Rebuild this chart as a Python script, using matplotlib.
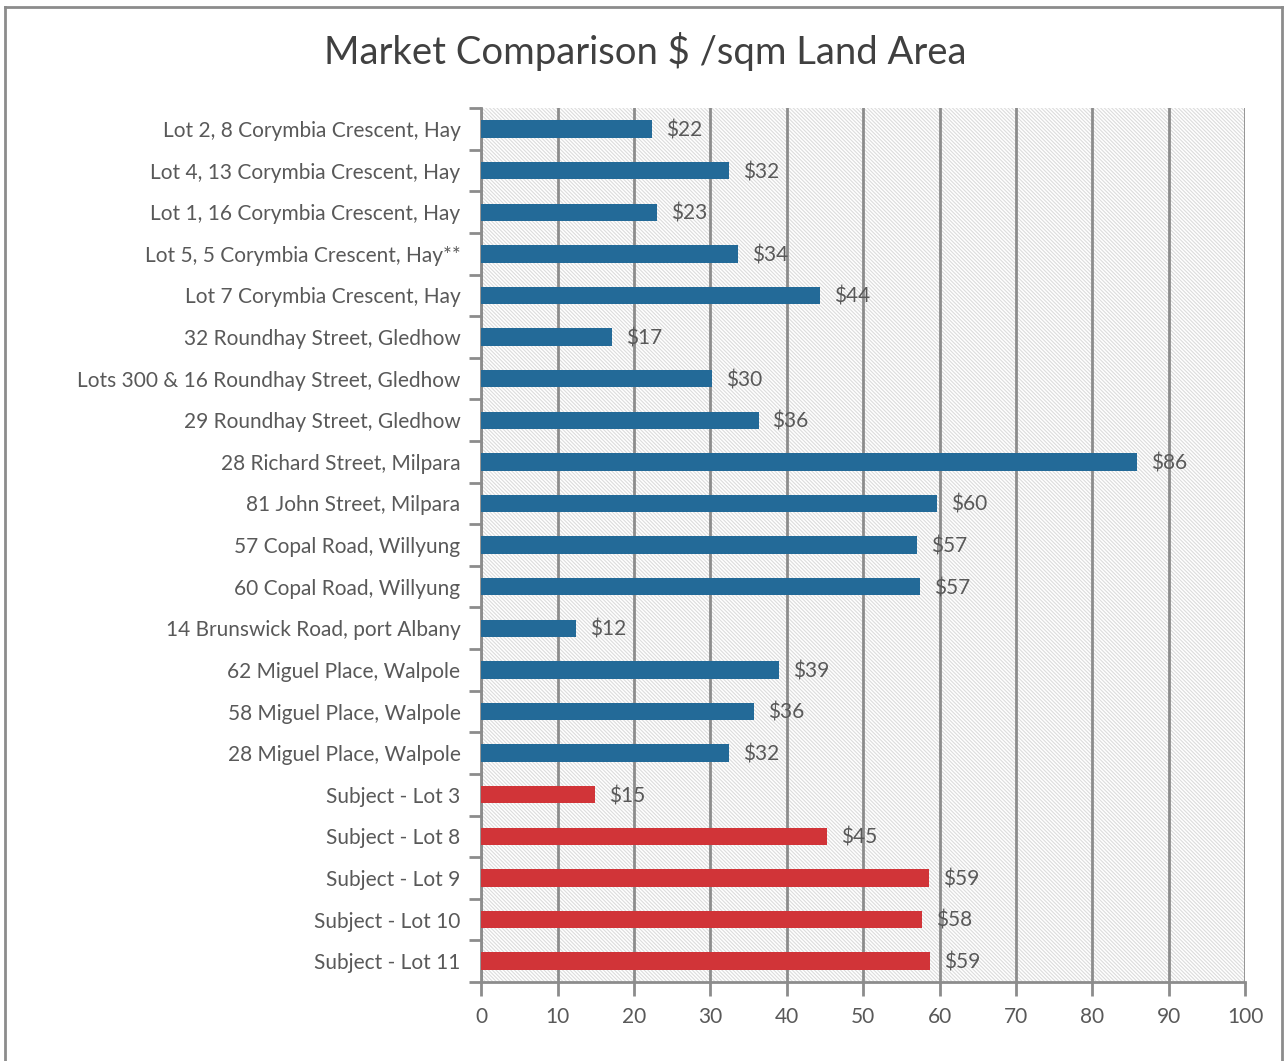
import matplotlib
matplotlib.use("Agg")
import matplotlib.pyplot as plt
from matplotlib.lines import Line2D

plt.rcParams["font.family"] = ["Lato", "DejaVu Sans"]
plt.rcParams["hatch.color"] = "#dcdcdc"
plt.rcParams["hatch.linewidth"] = 0.8

labels = [
    "Lot 2, 8 Corymbia Crescent, Hay",
    "Lot 4, 13 Corymbia Crescent, Hay",
    "Lot 1, 16 Corymbia Crescent, Hay",
    "Lot 5, 5 Corymbia Crescent, Hay**",
    "Lot 7 Corymbia Crescent, Hay",
    "32 Roundhay Street, Gledhow",
    "Lots 300 & 16 Roundhay Street, Gledhow",
    "29 Roundhay Street, Gledhow",
    "28 Richard Street, Milpara",
    "81 John Street, Milpara",
    "57 Copal Road, Willyung",
    "60 Copal Road, Willyung",
    "14 Brunswick Road, port Albany",
    "62 Miguel Place, Walpole",
    "58 Miguel Place, Walpole",
    "28 Miguel Place, Walpole",
    "Subject - Lot 3",
    "Subject - Lot 8",
    "Subject - Lot 9",
    "Subject - Lot 10",
    "Subject - Lot 11",
]
values = [22.4, 32.4, 23.0, 33.6, 44.4, 17.1, 30.2, 36.3, 85.9, 59.7, 57.1,
          57.4, 12.4, 39.0, 35.7, 32.4, 14.9, 45.3, 58.6, 57.7, 58.7]
is_subject = [lab.startswith("Subject") for lab in labels]

blue = "#236a98"
red = "#d13438"
grey = "#8c8c8c"
text_col = "#595959"

fig = plt.figure(figsize=(12.85, 10.61), dpi=100)
ax = fig.add_axes([0.3745, 0.0745, 0.5945, 0.8235])

# Hatched plot background, like Excel's light downward diagonal fill.
ax.set_facecolor("white")
ax.patch.set_hatch("\\" * 9)
ax.patch.set_edgecolor("#dcdcdc")
ax.patch.set_linewidth(0)

ypos = list(range(len(labels)))
colors = [red if s else blue for s in is_subject]
ax.barh(ypos, values, height=0.42, color=colors, zorder=3)

for y, v in zip(ypos, values):
    ax.annotate(f"${v:.0f}", (v, y), xytext=(10, -1), textcoords="offset points",
                va="center", ha="left", fontsize=15, color=text_col, zorder=4)

ax.set_xlim(0, 100)
ax.set_ylim(len(labels) - 0.5, -0.5)
ax.set_xticks(range(0, 101, 10))
ax.set_yticks(ypos)
ax.set_yticklabels(labels)
ax.set_yticks([i + 0.5 for i in range(-1, len(labels))], minor=True)

ax.grid(axis="x", color=grey, linewidth=2, zorder=1)
ax.set_axisbelow(True)

for side in ["top", "right"]:
    ax.spines[side].set_visible(False)
for side in ["left", "bottom"]:
    ax.spines[side].set_color(grey)
    ax.spines[side].set_linewidth(2)

ax.tick_params(axis="y", which="major", length=0, pad=15, labelsize=15, labelcolor=text_col)
ax.tick_params(axis="y", which="minor", length=9, width=2, color=grey, direction="out")
ax.tick_params(axis="x", length=10, width=2, color=grey, pad=8, labelsize=15, labelcolor=text_col)

fig.text(0.502, 0.951, "Market Comparison $ /sqm Land Area", ha="center", va="center",
         fontsize=27.5, color="#404040")

# Chart area border
W, H = 1285, 1061
for xs, ys in [((5, 5), (7, H + 5)), ((5, 1282), (7, 7)), ((1282, 1282), (7, H + 5))]:
    fig.add_artist(Line2D([x / W for x in xs], [1 - y / H for y in ys],
                          color="#8c8c8c", linewidth=2))

fig.savefig("out.png", dpi=100)
